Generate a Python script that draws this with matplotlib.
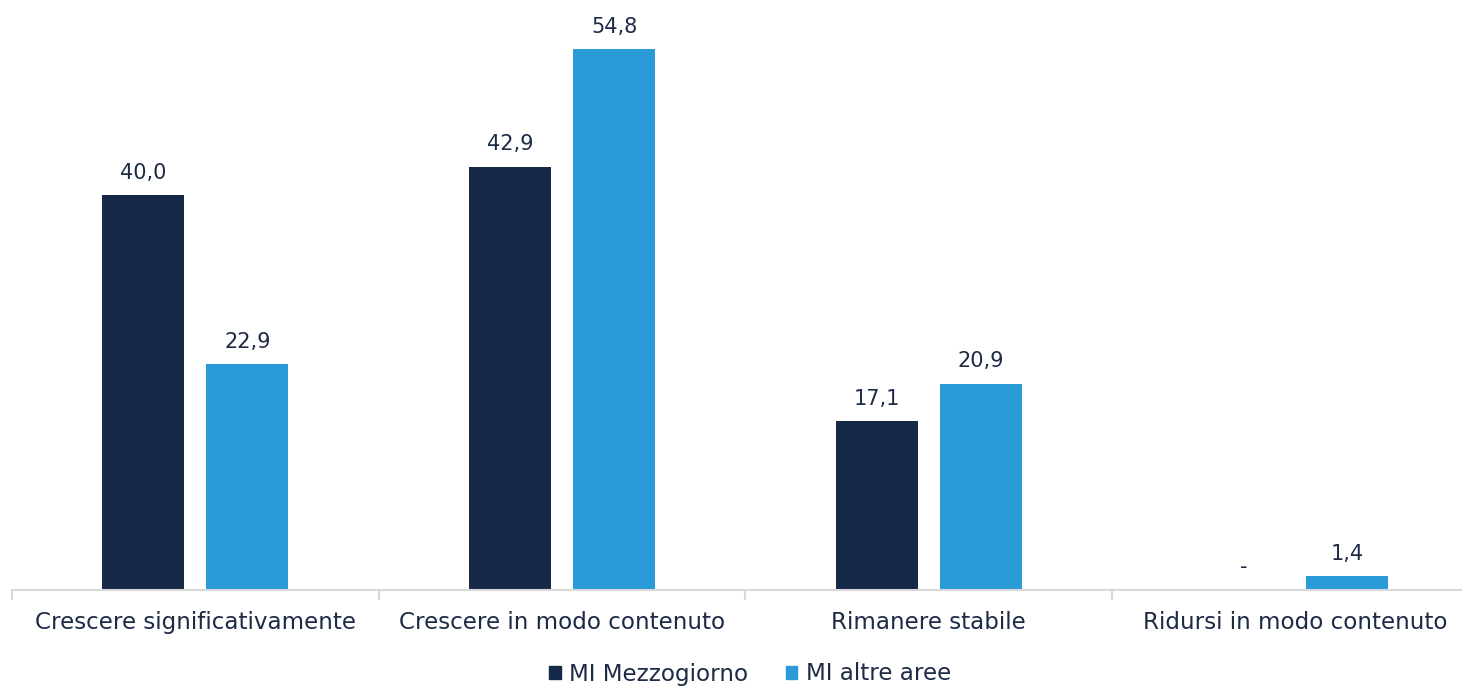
import numpy as np
import matplotlib.pyplot as plt
from matplotlib.patches import Patch

categories = ['Crescere significativamente', 'Crescere in modo contenuto',
              'Rimanere stabile', 'Ridursi in modo contenuto']
mezzogiorno = [40.0, 42.9, 17.1, 0.0]
altre_aree = [22.9, 54.8, 20.9, 1.4]
series_names = ['MI Mezzogiorno', 'MI altre aree']

dark = '#172949'
light = '#2a9ad8'
text_col = '#1e2b47'
grid_col = '#d9d9d9'

plt.rcParams['font.family'] = ['DejaVu Sans']

fig = plt.figure(figsize=(14.62, 6.87), dpi=100)
# axes run a bit past the right edge so the last group sits where it should
ax = fig.add_axes([12 / 1462, 97 / 687, 1466.7 / 1462, 592 / 687])

x = np.arange(len(categories))
w = 0.224
off = 0.142
b1 = ax.bar(x - off, mezzogiorno, w, color=dark)
b2 = ax.bar(x + off, altre_aree, w, color=light)

def fmt(v):
    if v == 0:
        return '-'
    return ('%.1f' % v).replace('.', ',')

for bars, vals in ((b1, mezzogiorno), (b2, altre_aree)):
    for r, v in zip(bars, vals):
        ax.annotate(fmt(v), (r.get_x() + r.get_width() / 2, v),
                    xytext=(0, 9), textcoords='offset points',
                    ha='center', va='bottom', fontsize=15, color=text_col)

ax.set_xlim(-0.5, len(categories) - 0.5)
ax.set_ylim(0, 60)
ax.set_xticks(x)
ax.set_xticklabels(categories, fontsize=16.6, color=text_col)
ax.tick_params(axis='x', which='major', length=0, pad=15)
ax.set_xticks(np.arange(len(categories) + 1) - 0.5, minor=True)
ax.tick_params(axis='x', which='minor', length=7, width=1.5, color=grid_col)
ax.set_yticks([])
for s in ['top', 'right', 'left']:
    ax.spines[s].set_visible(False)
ax.spines['bottom'].set_color(grid_col)
ax.spines['bottom'].set_linewidth(1.5)

handles = [Patch(color=dark), Patch(color=light)]
fig.legend(handles, series_names, loc='center', bbox_to_anchor=(750 / 1462, 13 / 687),
           ncol=2, frameon=False, fontsize=16.6, handlelength=0.5, handleheight=0.5,
           handletextpad=0.35, columnspacing=1.65, labelcolor=text_col)

fig.savefig('out.png', dpi=100)
